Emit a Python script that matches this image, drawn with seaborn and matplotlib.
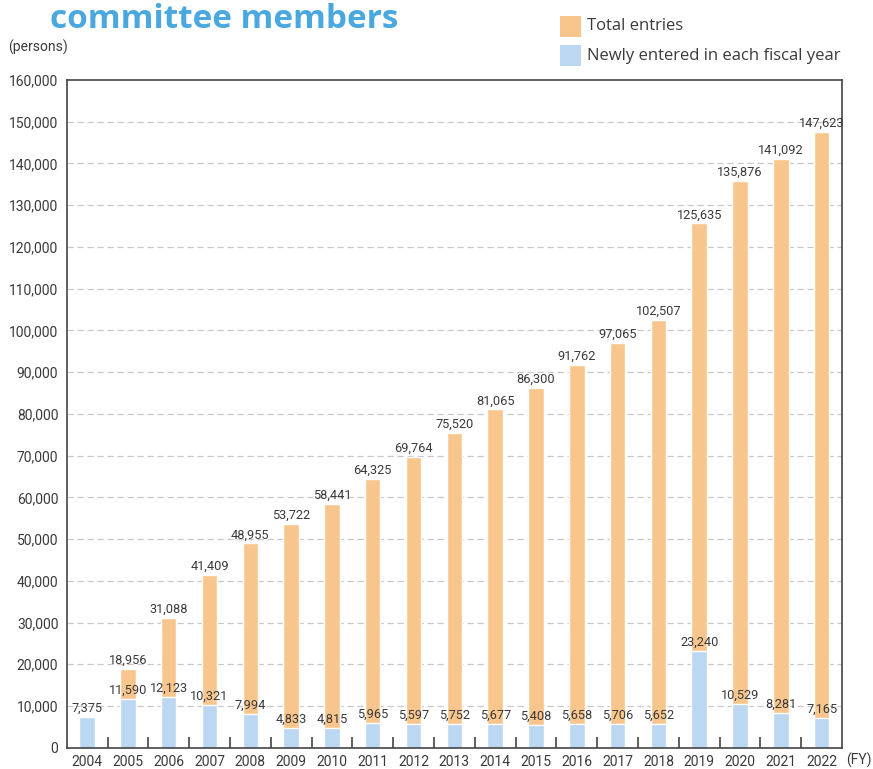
import matplotlib
matplotlib.use("Agg")
import matplotlib.pyplot as plt
import seaborn as sns
import pandas as pd
import numpy as np
from matplotlib.ticker import FuncFormatter, FixedLocator
from matplotlib.patches import Rectangle

years = [str(y) for y in range(2004, 2023)]
total_entries = [7375, 18956, 31088, 41409, 48955, 53722, 58441, 64325, 69764,
                 75520, 81065, 86300, 91762, 97065, 102507, 125635, 135876,
                 141092, 147623]
new_entries = [7375, 11590, 12123, 10321, 7994, 4833, 4815, 5965, 5597, 5752,
               5677, 5408, 5658, 5706, 5652, 23240, 10529, 8281, 7165]
yticks = list(range(0, 160001, 10000))
legend_labels = ["Total entries", "Newly entered in each fiscal year"]

sns.set_theme(style="white")
plt.rcParams["font.family"] = ["Liberation Sans Narrow", "Roboto", "DejaVu Sans"]

orange = "#F8C68C"
blue = "#BBD7F1"
txt = "#3a3a3a"

df = pd.DataFrame({"year": years, "total": total_entries, "new": new_entries})

W, H = 873, 769
fig = plt.figure(figsize=(W / 100, H / 100), dpi=100)
ax = fig.add_axes([66.7 / W, 1 - 747.7 / H, (842 - 66.7) / W, (747.7 - 80) / H])

sns.barplot(data=df, x="year", y="total", color=orange, width=0.38,
            saturation=1, ax=ax, order=years)
sns.barplot(data=df, x="year", y="new", color=blue, width=0.38,
            saturation=1, ax=ax, order=years)

ax.set_ylim(0, 160000)
ax.set_xlim(-0.5, len(years) - 0.5)
ax.yaxis.set_major_locator(FixedLocator(yticks))
ax.yaxis.set_major_formatter(FuncFormatter(lambda v, p: f"{int(v):,}"))
for v in yticks[1:-1]:
    ax.axhline(v, color="#c8c8c8", lw=0.9, ls=(0, (5, 3)), zorder=0)
ax.set_axisbelow(True)

for s in ax.spines.values():
    s.set_color("#444444")
    s.set_linewidth(1.2)

ax.set_xlabel("")
ax.set_ylabel("")
ax.tick_params(axis="y", length=0, pad=6, labelsize=10, labelcolor=txt)
ax.tick_params(axis="x", which="major", length=0, pad=5, labelsize=10,
               labelcolor=txt)
ax.set_xticks(np.arange(0.5, len(years) - 1, 1.0), minor=True)
ax.tick_params(axis="x", which="minor", direction="in", length=8,
               width=1.2, color="#444444", bottom=True)

for i, (t, n) in enumerate(zip(total_entries, new_entries)):
    if i > 0:
        ax.annotate(f"{t:,}", (i, t), xytext=(0, 1.5), textcoords="offset points",
                    ha="center", va="bottom", fontsize=9.2, color=txt)
    ax.annotate(f"{n:,}", (i, n), xytext=(0, 1.5), textcoords="offset points",
                ha="center", va="bottom", fontsize=9.2, color=txt)

fig.text(8 / W, 1 - 47 / H, "(persons)", fontsize=10, color=txt,
         ha="left", va="center")
fig.text(846 / W, 1 - 760 / H, "(FY)", fontsize=10, color=txt, ha="left",
         va="center")

fig.text(50 / W, 1 - 28 / H, "committee members", fontsize=24,
         fontweight="bold", color="#4AA8DF",
         family=["Open Sans", "DejaVu Sans"], ha="left", va="baseline")

# legend
for k, (lab, col) in enumerate(zip(legend_labels, [orange, blue])):
    y_top = 16 + k * 29
    fig.patches.append(Rectangle((560 / W, 1 - (y_top + 21) / H), 21 / W,
                                 21 / H, transform=fig.transFigure,
                                 facecolor=col, edgecolor="none"))
    fig.text(587 / W, 1 - (y_top + 10.5) / H, lab, fontsize=12, color=txt,
             family=["Open Sans", "DejaVu Sans"], ha="left", va="center")

fig.savefig("out.png", dpi=100)
